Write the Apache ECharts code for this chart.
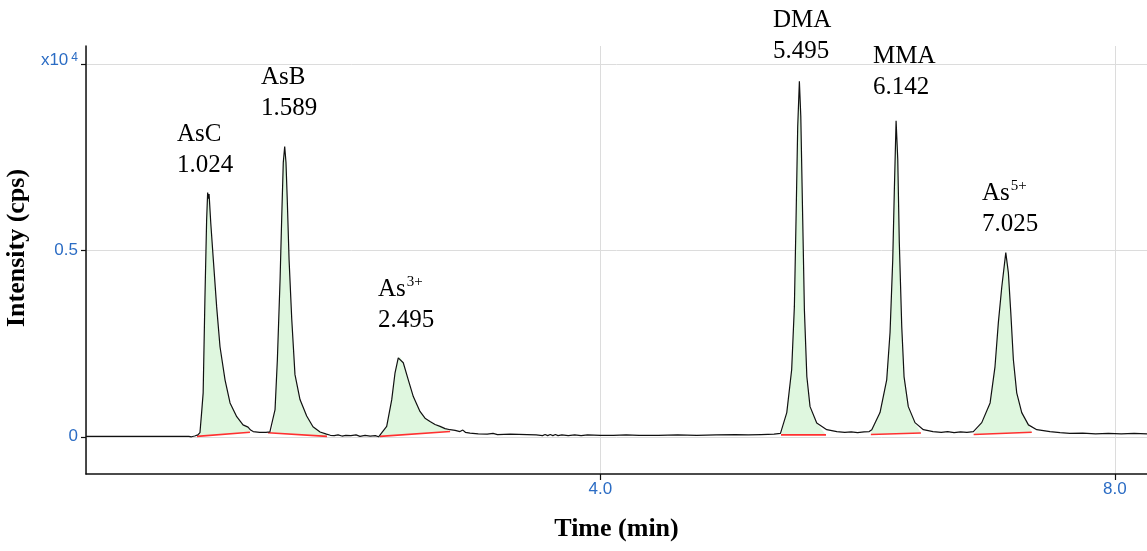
<!DOCTYPE html>
<html>
<head>
<meta charset="utf-8">
<script src="https://cdn.jsdelivr.net/npm/echarts@6/dist/echarts.min.js"></script>
<style>
html,body{margin:0;padding:0;background:#fff;}
#chart{width:1147px;height:551px;}
</style>
</head>
<body>
<div id="chart"></div>
<script>
// ---- Data (time in min, intensity in x10^4 cps) ----
const leadBaseline = [[0,0.001],[0.26,0.001],[0.56,0.001],[0.568,0.004],[0.576,0.001],[0.80,0.001],[0.809,-0.003],[0.82,0.0],[0.845,0.002],[0.87,0.005]];
const peakAsC = [[0.886,0.011],[0.899,0.065],[0.911,0.118],[0.925,0.376],[0.938,0.583],[0.946,0.656],[0.952,0.640],[0.957,0.652],[0.970,0.575],[0.990,0.476],[1.016,0.349],[1.042,0.242],[1.081,0.153],[1.120,0.091],[1.172,0.054],[1.221,0.032],[1.26,0.026],[1.28,0.018],[1.30,0.014],[1.35,0.012],[1.40,0.012],[1.43,0.013]];
const peakAsB = [[1.444,0.014],[1.470,0.073],[1.488,0.207],[1.509,0.422],[1.522,0.591],[1.534,0.737],[1.545,0.780],[1.555,0.737],[1.565,0.637],[1.579,0.476],[1.600,0.315],[1.625,0.167],[1.664,0.100],[1.716,0.056],[1.765,0.027],[1.82,0.013],[1.87,0.007],[1.90,0.004]];
const gapAsBAs3 = [[1.93,0.003],[1.96,0.005],[1.99,0.002],[2.02,0.004],[2.06,0.003],[2.10,0.005],[2.13,0.001],[2.17,0.004],[2.21,0.002],[2.25,0.003],[2.275,0.000]];
const peakAs3 = [[2.286,0.002],[2.338,0.028],[2.377,0.099],[2.403,0.172],[2.428,0.212],[2.442,0.215],[2.467,0.199],[2.506,0.153],[2.545,0.108],[2.597,0.068],[2.636,0.050],[2.675,0.041],[2.714,0.033],[2.753,0.028],[2.792,0.022],[2.831,0.019],[2.87,0.017],[2.908,0.014],[2.93,0.018],[2.95,0.012],[2.986,0.010]];
const gapAs3DMA = [[3.05,0.008],[3.12,0.007],[3.165,0.009],[3.2,0.006],[3.3,0.007],[3.43,0.006],[3.5,0.005],[3.55,0.003],[3.57,0.006],[3.59,0.003],[3.61,0.006],[3.63,0.003],[3.65,0.006],[3.67,0.003],[3.7,0.005],[3.75,0.003],[3.8,0.005],[3.85,0.003],[3.9,0.005],[4.0,0.004],[4.1,0.004],[4.2,0.005],[4.3,0.004],[4.45,0.004],[4.6,0.005],[4.75,0.004],[4.9,0.005],[5.05,0.006],[5.15,0.005],[5.25,0.006],[5.35,0.007],[5.40,0.009]];
const peakDMA = [[5.410,0.011],[5.449,0.065],[5.487,0.180],[5.508,0.349],[5.521,0.583],[5.534,0.833],[5.547,0.955],[5.558,0.861],[5.573,0.583],[5.586,0.341],[5.605,0.162],[5.630,0.081],[5.682,0.037],[5.760,0.019],[5.838,0.014]];
const gapDMAMMA = [[5.90,0.012],[5.95,0.013],[6.00,0.011],[6.05,0.013],[6.09,0.014]];
const peakMMA = [[6.110,0.019],[6.174,0.065],[6.226,0.153],[6.252,0.280],[6.273,0.476],[6.285,0.656],[6.299,0.849],[6.312,0.745],[6.324,0.522],[6.343,0.296],[6.361,0.161],[6.394,0.081],[6.446,0.038],[6.511,0.019],[6.586,0.014]];
const gapMMAAs5 = [[6.65,0.012],[6.70,0.014],[6.75,0.011],[6.80,0.013],[6.85,0.012]];
const peakAs5 = [[6.900,0.014],[6.965,0.038],[7.030,0.091],[7.068,0.188],[7.094,0.306],[7.121,0.403],[7.152,0.495],[7.172,0.441],[7.191,0.333],[7.211,0.207],[7.237,0.118],[7.276,0.065],[7.328,0.032],[7.393,0.019],[7.496,0.014],[7.574,0.011]];
const tailBaseline = [[7.65,0.009],[7.75,0.010],[7.85,0.008],[7.95,0.009],[8.05,0.008],[8.15,0.009],[8.25,0.008]];

// integration baselines (red) : start and end points
const integrationStart = [[0.863,0.001],[1.415,0.011],[2.286,0.001],[5.404,0.005],[6.103,0.006],[6.902,0.006]];
const integrationEnd   = [[1.275,0.012],[1.874,0.001],[2.831,0.014],[5.754,0.005],[6.492,0.010],[7.354,0.012]];

// peak annotations
const peakSymbols = ['AsC','AsB','As','DMA','MMA','As'];
const peakCharges = ['','','3+','','','5+'];
const peakRetention = ['1.024','1.589','2.495','5.495','6.142','7.025'];
const labelAnchors = [[0.708,0.772],[1.361,0.925],[2.271,0.355],[5.342,1.078],[6.120,0.981],[6.967,0.613]];

// axis
const xTickLabels = {4: '4.0', 8: '8.0'};
const yTickLabels = {0: '0', 0.5: '0.5'};

const trace = [].concat(leadBaseline, peakAsC, peakAsB, gapAsBAs3, peakAs3, gapAs3DMA, peakDMA, gapDMAMMA, peakMMA, gapMMAAs5, peakAs5, tailBaseline);

const chart = echarts.init(document.getElementById('chart'));
const tickColor = '#2b6cc4';
const serif = 'Liberation Serif, Times New Roman, serif';
const sans = 'Liberation Sans Narrow, Liberation Sans, Arial';

const redSeries = integrationStart.map((s, i) => ({
  type: 'line', data: [s, integrationEnd[i]], showSymbol: false, z: 4,
  lineStyle: {color: '#ff3030', width: 1.6}, silent: true
}));

chart.setOption({
  animation: false,
  grid: {left: 86, right: 0, top: 46, bottom: 77, containLabel: false, outerBoundsMode: 'none'},
  xAxis: {
    type: 'value', min: 0, max: 8.25, interval: 4,
    axisLine: {show: true, onZero: false, lineStyle: {color: '#111', width: 1.5}},
    axisTick: {show: true, length: 6, lineStyle: {color: '#111', width: 1.2}},
    axisLabel: {showMinLabel: false, showMaxLabel: false, margin: 7, color: tickColor, fontSize: 17,
      fontFamily: sans, formatter: v => xTickLabels[v] || ''},
    splitLine: {show: true, showMaxLine: false, lineStyle: {color: '#dcdcdc', width: 1}},
    name: 'Time (min)', nameLocation: 'middle', nameGap: 42,
    nameTextStyle: {fontFamily: serif, fontWeight: 'bold', fontSize: 26, color: '#000'}
  },
  yAxis: {
    type: 'value', min: -0.1, max: 1.05, splitNumber: 2,
    axisLine: {show: true, onZero: false, lineStyle: {color: '#111', width: 1.5}},
    axisTick: {show: true, length: 5, lineStyle: {color: '#111', width: 1.2}},
    axisLabel: {showMinLabel: false, showMaxLabel: false, margin: 8, color: tickColor, fontSize: 17,
      fontFamily: sans,
      formatter: v => (Math.abs(v - 1) < 1e-9 ? '{a|x10}{b|4}' : (yTickLabels[Math.abs(v) < 1e-9 ? 0 : v] || '')),
      rich: {
        a: {color: tickColor, fontSize: 17, fontFamily: sans, padding: [0, 0, 8, 0]},
        b: {color: tickColor, fontSize: 12, fontFamily: sans, verticalAlign: 'top', padding: [0, 0, 0, 3]}
      }},
    splitLine: {show: true, showMinLine: false, showMaxLine: false, lineStyle: {color: '#dcdcdc', width: 1}},
    name: 'Intensity (cps)', nameLocation: 'middle', nameGap: 52, nameRotate: 90,
    nameTextStyle: {fontFamily: serif, fontWeight: 'bold', fontSize: 26, color: '#000', padding: [0, 0, 0, 24]}
  },
  series: [
    {
      type: 'custom', z: 2, silent: true,
      data: integrationStart.map((s, i) => [s[0], s[1], integrationEnd[i][0], integrationEnd[i][1]]),
      encode: {x: [0, 2], y: [1, 3]},
      renderItem: function (params, api) {
        const i = params.dataIndex;
        const s = integrationStart[i], e = integrationEnd[i];
        const pts = [api.coord(s)];
        trace.forEach(p => { if (p[0] > s[0] && p[0] < e[0]) pts.push(api.coord(p)); });
        pts.push(api.coord(e));
        return {type: 'polygon', shape: {points: pts}, style: {fill: '#dff7df', stroke: null}};
      }
    },
    {
      type: 'line', data: trace, showSymbol: false, z: 5, silent: true,
      lineStyle: {color: '#111', width: 1.2}
    },
    ...redSeries,
    {
      type: 'scatter', symbolSize: 0, clip: false, z: 6, silent: true,
      itemStyle: {opacity: 1},
      data: labelAnchors.map((p, i) => ({value: p, name: String(i)})),
      label: {
        show: true, position: 'right', distance: 0, color: '#000', opacity: 1,
        formatter: function (p) {
          const i = p.dataIndex;
          return '{n|' + peakSymbols[i] + '}' + (peakCharges[i] ? '{s|' + peakCharges[i] + '}' : '') + '\n{n|' + peakRetention[i] + '}';
        },
        rich: {
          n: {fontSize: 25, lineHeight: 31, fontFamily: serif, color: '#000'},
          s: {fontSize: 15, lineHeight: 15, fontFamily: serif, color: '#000', verticalAlign: 'top', padding: [1, 0, 0, 1]}
        }
      }
    }
  ]
});
</script>
</body>
</html>
